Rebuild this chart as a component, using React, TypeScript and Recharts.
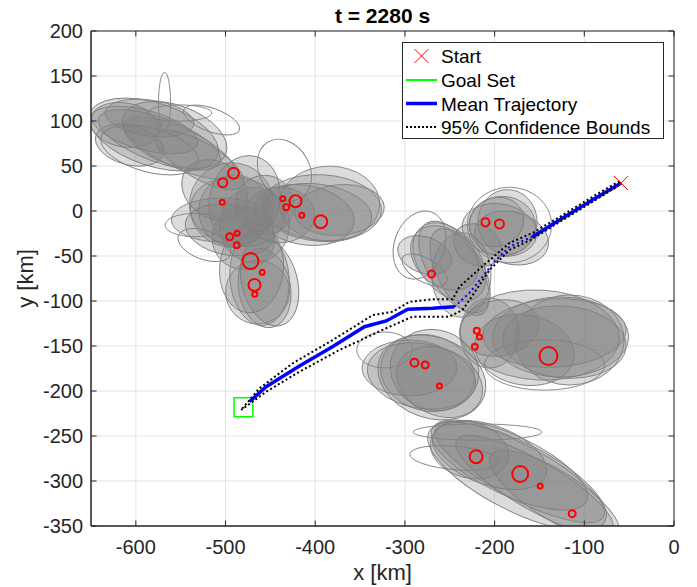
import React from 'react';
import { ComposedChart, XAxis, YAxis, CartesianGrid, Line, Scatter, ReferenceArea } from 'recharts';

// ---------- data (km) ----------
const xTicks = [-600, -500, -400, -300, -200, -100, 0];
const yTicks = [-350, -300, -250, -200, -150, -100, -50, 0, 50, 100, 150, 200];

const startPoint = [{ x: -59, y: 31 }];
const goalX = [-490.5, -469.5];
const goalY = [-228.5, -207.5];

const meanTrajX = [-59, -91, -127.7, -142.5, -157.8, -183.4, -200.2, -213.5, -228, -244.8, -269, -296.8, -320.9, -345.1, -380.8, -417.6, -454.7, -473.3];
const meanTrajY = [31, 12.2, -10, -19.2, -28.6, -39.7, -56.3, -73, -91, -106.3, -108.1, -109.2, -122.2, -128.6, -150.8, -172.2, -195.2, -211.9];

const upperBoundX = [-60.8, -91, -127.7, -157.8, -183.4, -209.4, -239.2, -246.7, -269, -294.9, -313.5, -335.8, -380.4, -425, -462.2, -482.6];
const upperBoundY = [33.3, 15.6, -6.7, -24.4, -35.6, -57.8, -84.1, -98.1, -98.1, -100.8, -111.9, -115.6, -143.3, -169.2, -197, -221.1];
const lowerBoundX = [-60.8, -91, -127.7, -157.8, -183.4, -205.7, -228, -235.8, -250.3, -291.6, -320.9, -373, -417.6, -454.7, -482.6];
const lowerBoundY = [28.9, 10, -12.2, -31.1, -43.3, -65.6, -98.9, -110, -117.4, -117.4, -130.3, -154.4, -178.6, -200.8, -221.1];

// obstacle circles: [x, y, radius km]
const obstacles = [
  [-491.1, 41.9, 6.1], [-503.1, 31.4, 5.0], [-503.7, 9.7, 2.8], [-436.2, 13.7, 2.8],
  [-422, 10.8, 6.7], [-432.4, 4.1, 3.3], [-415, -4.8, 2.8], [-393.8, -11.9, 7.2],
  [-495.3, -28.6, 3.9], [-487, -24.8, 2.8], [-487.5, -38.1, 3.3], [-472.2, -55.6, 8.9],
  [-459.1, -68.1, 2.8], [-467.7, -82.2, 6.7], [-467.4, -92.6, 2.8], [-210.2, -12.6, 4.5],
  [-194.6, -14.4, 5.0], [-270.4, -70, 3.9], [-219.9, -133, 3.3], [-216.9, -140, 2.8],
  [-222.1, -150.8, 3.3], [-140, -161.1, 10], [-289.4, -168.6, 4.5], [-277.4, -171.1, 3.9],
  [-261.5, -194.4, 2.8], [-220.6, -273, 7.2], [-171.5, -292.2, 8.9], [-149.2, -305.6, 2.8],
  [-113.5, -336.3, 3.9],
];

// uncertainty ellipses: [cx, cy, rx, ry, angle deg]
const clusterA = [
  [-573.6, 78.9, 72, 24.5, -20], [-590.3, 90, 61, 22, -15], [-551.3, 70, 67, 22, -25],
  [-612.6, 95.6, 39, 24.5, -10], [-529, 56.7, 56, 20, -30], [-584.7, 103.3, 50, 20, -8],
  [-607, 73.3, 39, 22, -15], [-556.8, 84.4, 61, 33, -20], [-580, 85, 75, 35, -18],
];
const clusterB = [
  [-493.3, 6.7, 47, 47, 0], [-486.6, -1.1, 53, 38, -10], [-504.4, -10, 56, 24.5, 0],
  [-478.8, 12.2, 39, 50, -15], [-512.2, 23.3, 39, 31, -35], [-467.7, -15.6, 39, 42, 0],
  [-495.5, -21.1, 50, 28, -10], [-490, 0, 40, 40, 0], [-480, -30, 35, 35, 0],
  [-456.5, 6.7, 33, 33, 0], [-439.8, -4.4, 39, 31, 0],
  [-462.1, -74.4, 33, 53, 5], [-456.5, -85.6, 29, 44.5, 10], [-471, -63.3, 35.6, 50, -5],
  [-450.9, -78.9, 31, 50, 15], [-464.3, -90, 35.6, 35.6, 0],
];
const clusterC = [
  [-393, 3.3, 67, 37, -3], [-397.4, -1.1, 61, 31, -8], [-384.1, 7.8, 56, 42, 0],
  [-411.9, -4.4, 56, 33, -10], [-372.9, 1.1, 50, 28, 5],
];
const clusterD = [
  [-244.7, -62.2, 58, 29, -57], [-250.3, -56.7, 50, 33, -50], [-239.1, -67.8, 53, 24.5, -62],
  [-255.8, -52.2, 42, 31, -40], [-278.1, -48.9, 31, 20, -20], [-237, -71.1, 33, 47, 0],
  [-219, -37.8, 28, 22, -30],
];
const clusterE = [
  [-191.2, -16.7, 37, 33, 0], [-194.6, -21.1, 42, 29, -10], [-185.6, -12.2, 33, 36, 0],
  [-197.9, -12.2, 31, 27, 20], [-181.2, -30, 42, 29, -15],
];
const clusterF = [
  [-126.5, -140, 76, 44.5, 0], [-122.1, -145.6, 69, 40, -5], [-133.2, -135.6, 80, 38, 3],
  [-116.5, -143.3, 61, 50, 0], [-205.7, -135.6, 33, 39, 0], [-194.6, -130, 44.5, 31, 10],
  [-166.7, -154.4, 56, 39, -10], [-149.9, -137.8, 89, 50, -3],
];
const clusterG = [
  [-274.8, -180, 53, 42, -15], [-281.5, -183.3, 61, 36, -10], [-267, -176.7, 50, 44.5, -20],
  [-294.8, -174.4, 53, 31, 0], [-261.4, -190, 50, 36.7, -25], [-270, -185, 62, 45, -20],
];
const clusterH = [
  [-172.2, -290, 106, 30, -28], [-183.4, -282.2, 95, 33, -25], [-155.5, -304.4, 100, 27, -30],
  [-205.7, -271.1, 67, 33, -20], [-133.2, -315.6, 83.5, 27, -32], [-228, -265.6, 44.5, 31, -15],
  [-175, -295, 110, 38, -27],
];
const outlierEllipses = [
  [-568, 121.1, 6.7, 33, 0], [-551.3, 108.9, 36, 9, 0], [-515.6, 101.1, 33, 13, -20],
  [-584.7, 67.8, 56, 24.5, -15],
  [-434.3, 45.6, 28, 36, 30], [-534.5, -15.6, 33, 13, 0], [-523.4, -37.8, 31, 16, -20],
  [-283.7, -37.8, 28, 39, -20], [-278.1, -65.6, 28, 13, -30], [-183.4, -15.6, 47, 42, 0],
  [-144.4, -171.1, 67, 28, 0], [-322.7, -154.4, 31, 20, 0],
  [-219, -245.6, 72, 9, 0], [-244.7, -274.4, 50, 13, -5],
];

// ---------- layout ----------
const W = 697, H = 587;
const PLOT_L = 91, PLOT_T = 31, PLOT_W = 583, PLOT_H = 495;
const PLOT_R = PLOT_L + PLOT_W, PLOT_B = PLOT_T + PLOT_H;
const KX = PLOT_W / 650, KY = PLOT_H / 550;
const AX = '#262626';
const TL = 5.5;
const FONT = '"Liberation Sans", Arial, Helvetica, sans-serif';

const pts = (xs: number[], ys: number[]) => xs.map((x, i) => ({ x, y: ys[i] }));
const toEll = (arr: number[][]) => arr.map(([x, y, rx, ry, ang]) => ({ x, y, rx, ry, ang }));

const meanAll = pts(meanTrajX, meanTrajY);
const meanSeg1 = meanAll.slice(0, 5);
const meanSeg2 = meanAll.slice(4, 10);
const meanSeg3 = meanAll.slice(9);
const upper = pts(upperBoundX, upperBoundY);
const lower = pts(lowerBoundX, lowerBoundY);
const ellipses = toEll([...clusterA, ...clusterB, ...clusterC, ...clusterD, ...clusterE, ...clusterF, ...clusterG, ...clusterH]);
const outliers = toEll(outlierEllipses);
const obstacleData = obstacles.map(([x, y, r]) => ({ x, y, r }));

const EllipseShape = (p: any) => {
  const { cx, cy, payload } = p;
  if (cx == null || cy == null) return null;
  return (
    <ellipse cx={cx} cy={cy} rx={payload.rx * KX} ry={payload.ry * KY}
      transform={`rotate(${-payload.ang} ${cx} ${cy})`}
      fill="#808080" fillOpacity={0.28} stroke="#808080" strokeWidth={0.9} />
  );
};
const OutlierShape = (p: any) => {
  const { cx, cy, payload } = p;
  if (cx == null || cy == null) return null;
  return (
    <ellipse cx={cx} cy={cy} rx={payload.rx * KX} ry={payload.ry * KY}
      transform={`rotate(${-payload.ang} ${cx} ${cy})`}
      fill="none" stroke="#808080" strokeWidth={0.9} />
  );
};
const CircleShape = (p: any) => {
  const { cx, cy, payload } = p;
  if (cx == null || cy == null) return null;
  return <circle cx={cx} cy={cy} r={payload.r * KX} fill="none" stroke="#ff0000" strokeWidth={2} />;
};
const XShape = (p: any) => {
  const { cx, cy } = p;
  if (cx == null || cy == null) return null;
  const s = 7;
  return (
    <g stroke="#ff0000" strokeWidth={1}>
      <line x1={cx - s} y1={cy - s} x2={cx + s} y2={cy + s} />
      <line x1={cx - s} y1={cy + s} x2={cx + s} y2={cy - s} />
    </g>
  );
};

const XTick = (p: any) => {
  const { x, y, payload } = p;
  return (
    <g>
      <line x1={x} x2={x} y1={PLOT_B} y2={PLOT_B - TL} stroke={AX} />
      <line x1={x} x2={x} y1={PLOT_T} y2={PLOT_T + TL} stroke={AX} />
      <text x={x} y={y} dy="0.71em" textAnchor="middle" fontSize={20} fill={AX} fontFamily={FONT}>{payload.value}</text>
    </g>
  );
};
const YTick = (p: any) => {
  const { x, y, payload } = p;
  return (
    <g>
      <line x1={PLOT_L} x2={PLOT_L + TL} y1={y} y2={y} stroke={AX} />
      <line x1={PLOT_R} x2={PLOT_R - TL} y1={y} y2={y} stroke={AX} />
      <text x={x} y={y} dy="0.355em" textAnchor="end" fontSize={20} fill={AX} fontFamily={FONT}>{payload.value}</text>
    </g>
  );
};
const XLabel = () => (
  <text x={(PLOT_L + PLOT_R) / 2} y={580} textAnchor="middle" fontSize={22} fill={AX} fontFamily={FONT}>x [km]</text>
);
const YLabel = () => (
  <text transform={`translate(33 ${(PLOT_T + PLOT_B) / 2}) rotate(-90)`} x={0} y={0} textAnchor="middle" fontSize={22} fill={AX} fontFamily={FONT}>y [km]</text>
);

export default function App() {
  const lx = 402.5, ly = 42.5;
  return (
    <div style={{ position: 'absolute', left: 0, top: 0, width: W, height: H, background: '#fff', fontFamily: FONT }}>
      <ComposedChart width={W} height={H} margin={{ top: PLOT_T, right: W - PLOT_R, bottom: 0, left: 0 }}>
        <CartesianGrid stroke="#e3e3e3" strokeWidth={1} />
        <XAxis type="number" dataKey="x" domain={[-650, 0]} ticks={xTicks} allowDataOverflow
          height={H - PLOT_B} tickLine={false} axisLine={{ stroke: AX }} tickMargin={8}
          tick={<XTick />} label={<XLabel />} interval={0} />
        <YAxis type="number" dataKey="y" domain={[-350, 200]} ticks={yTicks} allowDataOverflow
          width={PLOT_L} tickLine={false} axisLine={{ stroke: AX }} tickMargin={2}
          tick={<YTick />} label={<YLabel />} interval={0} />
        <Scatter data={ellipses} shape={EllipseShape} isAnimationActive={false} zIndex={100} />
        <Scatter data={outliers} shape={OutlierShape} isAnimationActive={false} zIndex={101} />
        <Scatter data={obstacleData} shape={CircleShape} isAnimationActive={false} zIndex={150} />
        <ReferenceArea x1={goalX[0]} x2={goalX[1]} y1={goalY[0]} y2={goalY[1]} fill="none" fillOpacity={0}
          stroke="#00ff00" strokeWidth={1.5} ifOverflow="visible" zIndex={160} />
        <Line data={meanSeg1} dataKey="y" type="linear" stroke="#0000ff" strokeWidth={3.5} dot={false} isAnimationActive={false} zIndex={400} />
        <Line data={meanSeg2} dataKey="y" type="linear" stroke="#0000ff" strokeWidth={2} strokeDasharray="2 3" dot={false} isAnimationActive={false} zIndex={400} />
        <Line data={meanSeg3} dataKey="y" type="linear" stroke="#0000ff" strokeWidth={3.5} dot={false} isAnimationActive={false} zIndex={400} />
        <Line data={upper} dataKey="y" type="linear" stroke="#000" strokeWidth={2} strokeDasharray="2 2.5" dot={false} isAnimationActive={false} zIndex={410} />
        <Line data={lower} dataKey="y" type="linear" stroke="#000" strokeWidth={2} strokeDasharray="2 2.5" dot={false} isAnimationActive={false} zIndex={410} />
        <Scatter data={startPoint} shape={XShape} isAnimationActive={false} zIndex={600} />
        <ReferenceArea x1={-650} x2={0} y1={-350} y2={200} fill="none" fillOpacity={0} stroke={AX} strokeWidth={1} ifOverflow="visible" zIndex={700} />
      </ComposedChart>
      <svg width={W} height={H} style={{ position: 'absolute', left: 0, top: 0, pointerEvents: 'none' }}>
        <text x={(PLOT_L + PLOT_R) / 2} y={23} textAnchor="middle" fontSize={21} fontWeight="bold" fill="#000" fontFamily={FONT}>t = 2280 s</text>
        <rect x={lx} y={ly} width={261} height={96} fill="#fff" stroke={AX} strokeWidth={1} />
        <g stroke="#ff0000" strokeWidth={1}>
          <line x1={414.5} y1={49} x2={428.5} y2={63} />
          <line x1={414.5} y1={63} x2={428.5} y2={49} />
        </g>
        <line x1={406} x2={437} y1={80} y2={80} stroke="#00ff00" strokeWidth={2} />
        <line x1={406} x2={437} y1={103.5} y2={103.5} stroke="#0000ff" strokeWidth={3.5} />
        <line x1={406} x2={437} y1={127} y2={127} stroke="#000" strokeWidth={2} strokeDasharray="2 2" />
        <g fontSize={19} fill="#000" fontFamily={FONT}>
          <text x={441} y={63}>Start</text>
          <text x={441} y={87}>Goal Set</text>
          <text x={441} y={110.5}>Mean Trajectory</text>
          <text x={441} y={134}>95% Confidence Bounds</text>
        </g>
      </svg>
    </div>
  );
}
